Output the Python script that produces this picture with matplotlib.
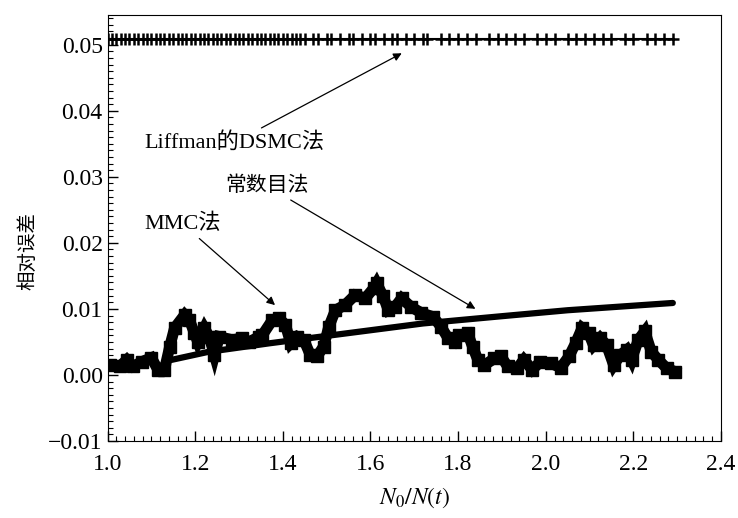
import numpy as np
import matplotlib.pyplot as plt
from matplotlib.ticker import MultipleLocator

plt.rcParams['font.family'] = ['Liberation Serif', 'Noto Sans CJK SC', 'DejaVu Sans']
plt.rcParams['mathtext.fontset'] = 'stix'

# Liffman DSMC method: flat error level, plotted as '+' markers
liffman_x = [1.00, 1.01, 1.02, 1.03, 1.04, 1.05, 1.06, 1.07, 1.08, 1.09,
             1.10, 1.11, 1.12, 1.13, 1.14, 1.15, 1.16, 1.17, 1.18, 1.19,
             1.20, 1.21, 1.22, 1.23, 1.24, 1.25, 1.26, 1.27, 1.28, 1.29,
             1.30, 1.31, 1.32, 1.33, 1.34, 1.35, 1.36, 1.37, 1.38, 1.39,
             1.40, 1.41, 1.42, 1.43, 1.44, 1.45, 1.47, 1.48, 1.50, 1.51,
             1.53, 1.55, 1.56, 1.58, 1.60, 1.61, 1.63, 1.65, 1.66, 1.68,
             1.70, 1.72, 1.73, 1.76, 1.78, 1.80, 1.82, 1.84, 1.87, 1.89,
             1.91, 1.93, 1.95, 1.98, 2.00, 2.02, 2.05, 2.07, 2.09, 2.11,
             2.13, 2.15, 2.18, 2.20, 2.23, 2.25, 2.27, 2.29]
liffman_level = 0.0508

# constant-number method
const_x = [1.14, 1.23, 1.37, 1.51, 1.72, 1.90, 2.05, 2.29]
const_y = [0.0022, 0.0035, 0.0048, 0.0060, 0.0078, 0.0089, 0.0098, 0.0109]

# MMC method
mmc_x = [1.006, 1.028, 1.044, 1.058, 1.078, 1.100, 1.115, 1.130, 1.142, 1.153,
         1.176, 1.187, 1.198, 1.206, 1.221, 1.232, 1.244, 1.255, 1.285, 1.308,
         1.323, 1.346, 1.353, 1.376, 1.391, 1.406, 1.418, 1.433, 1.448, 1.463,
         1.478, 1.493, 1.505, 1.520, 1.542, 1.565, 1.588, 1.607, 1.614, 1.629,
         1.641, 1.656, 1.671, 1.693, 1.716, 1.743, 1.761, 1.777, 1.792, 1.803,
         1.822, 1.833, 1.845, 1.860, 1.883, 1.898, 1.913, 1.935, 1.950, 1.969,
         1.988, 2.011, 2.034, 2.053, 2.068, 2.083, 2.098, 2.109, 2.124, 2.139,
         2.155, 2.170, 2.185, 2.196, 2.211, 2.226, 2.241, 2.257, 2.276, 2.295]
mmc_y = [0.0015, 0.0013, 0.0023, 0.0013, 0.0020, 0.0026, 0.0008, 0.0008, 0.0043, 0.0071,
         0.0091, 0.0083, 0.0064, 0.0050, 0.0071, 0.0058, 0.0030, 0.0058, 0.0053, 0.0056,
         0.0050, 0.0058, 0.0060, 0.0083, 0.0086, 0.0076, 0.0048, 0.0058, 0.0053, 0.0030,
         0.0028, 0.0043, 0.0073, 0.0098, 0.0106, 0.0121, 0.0116, 0.0131, 0.0139, 0.0119,
         0.0098, 0.0103, 0.0116, 0.0103, 0.0094, 0.0088, 0.0073, 0.0056, 0.0050, 0.0060,
         0.0063, 0.0043, 0.0023, 0.0015, 0.0025, 0.0028, 0.0013, 0.0010, 0.0023, 0.0008,
         0.0020, 0.0018, 0.0011, 0.0028, 0.0048, 0.0071, 0.0063, 0.0045, 0.0056, 0.0045,
         0.0015, 0.0030, 0.0038, 0.0023, 0.0053, 0.0066, 0.0035, 0.0023, 0.0010, 0.0005]

fig = plt.figure(figsize=(7.38, 5.18), dpi=100)
ax = fig.add_axes([0.1457, 0.1486, 0.8313, 0.8225])

ax.plot(liffman_x, [liffman_level] * len(liffman_x), color='black', lw=1.5,
        marker='+', markersize=8, markeredgewidth=1.8)
ax.plot(const_x, const_y, color='black', lw=4.5, solid_capstyle='round')
ax.plot(mmc_x, mmc_y, color='black', lw=8, marker='s', markersize=8,
        solid_joinstyle='miter')

arrow = dict(arrowstyle='-|>', color='black', lw=0.9, mutation_scale=12)
ax.annotate('Liffman的DSMC法', xy=(1.677, 0.0489), xytext=(1.289, 0.0352),
            fontsize=16, ha='center', va='center', arrowprops=arrow)
ax.annotate('常数目法', xy=(1.845, 0.0098), xytext=(1.364, 0.0286),
            fontsize=15, ha='center', va='center', arrowprops=arrow)
ax.annotate('MMC法', xy=(1.387, 0.0103), xytext=(1.171, 0.0229),
            fontsize=16, ha='center', va='center', arrowprops=arrow)

ax.set_xlim(1.0, 2.4)
ax.set_ylim(-0.01, 0.0545)
ax.set_xticks([1.0, 1.2, 1.4, 1.6, 1.8, 2.0, 2.2, 2.4])
ax.set_yticks([-0.01, 0.0, 0.01, 0.02, 0.03, 0.04, 0.05])
ax.set_yticklabels(['\u22120.01', '0.00', '0.01', '0.02', '0.03', '0.04', '0.05'])
ax.xaxis.set_minor_locator(MultipleLocator(0.02))
ax.yaxis.set_minor_locator(MultipleLocator(0.001))
ax.tick_params(which='both', direction='in', top=False, right=False, labelsize=17)
ax.tick_params(which='major', length=7, width=1)
ax.tick_params(which='minor', length=3.5, width=0.8)
ax.tick_params(axis='x', pad=9)

ax.set_xlabel('$N_0/N(t)$', fontsize=17, labelpad=8)
ax.set_ylabel('相对误差', fontsize=14)
ax.yaxis.set_label_coords(-0.115, 0.445)

fig.savefig('out.png', dpi=100)
